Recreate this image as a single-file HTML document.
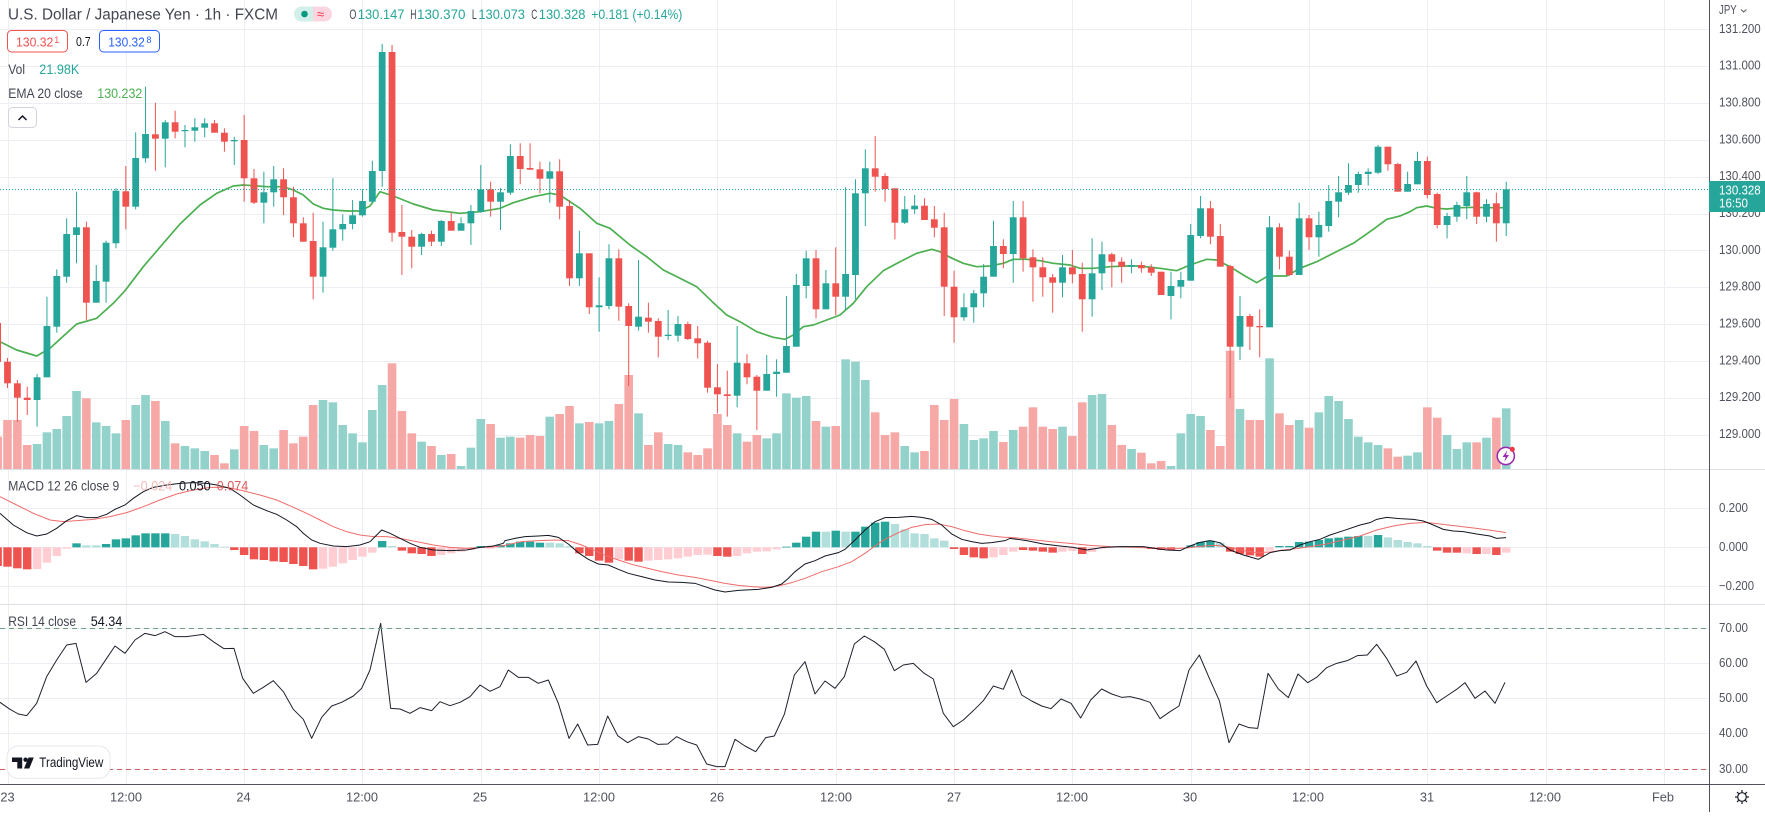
<!DOCTYPE html>
<html><head><meta charset="utf-8">
<style>
html,body{margin:0;padding:0;background:#fff;}
body{width:1765px;height:812px;overflow:hidden;}
svg text{font-family:"Liberation Sans",sans-serif;}
</style></head>
<body>
<svg id="svg" width="1765" height="812" viewBox="0 0 1765 812" xmlns="http://www.w3.org/2000/svg">
<rect x="0" y="0" width="1765" height="812" fill="#fff"/>
<g id="grid" stroke="#eceef3" stroke-width="1" shape-rendering="crispEdges"></g>
<g id="vol"></g>
<g id="ema"></g>
<g id="cand"></g>
<line x1="0" y1="189.5" x2="1709" y2="189.5" stroke="#26a69a" stroke-width="1" stroke-dasharray="1,2"/>
<g id="macd"></g>
<g id="rsi"></g>
<!-- RSI bands -->
<line x1="0" y1="628.5" x2="1709" y2="628.5" stroke="#6a9f82" stroke-width="1" stroke-dasharray="5,4"/>
<line x1="0" y1="769.5" x2="1709" y2="769.5" stroke="#c7625f" stroke-width="1" stroke-dasharray="5,4"/>
<!-- separators -->
<line x1="0" y1="469.5" x2="1765" y2="469.5" stroke="#dcdfe6" stroke-width="1"/>
<line x1="0" y1="604.5" x2="1765" y2="604.5" stroke="#dcdfe6" stroke-width="1"/>
<line x1="0" y1="784.5" x2="1765" y2="784.5" stroke="#50535e" stroke-width="1"/>
<line x1="1709.5" y1="0" x2="1709.5" y2="812" stroke="#50535e" stroke-width="1"/>

<!-- Header legend -->
<text x="8" y="19.5" font-size="15.5" fill="#434651" textLength="270" lengthAdjust="spacingAndGlyphs">U.S. Dollar / Japanese Yen · 1h · FXCM</text>
<path d="M301.5,6.5 H313 V21.5 H301.5 A7.5,7.5 0 0 1 301.5,6.5 Z" fill="#d3efe9"/>
<path d="M313,6.5 H324.5 A7.5,7.5 0 0 1 324.5,21.5 H313 Z" fill="#fbd5df"/>
<circle cx="304.5" cy="14" r="3.3" fill="#089981"/>
<text x="317" y="18.5" font-size="13" fill="#f23645">≈</text>
<g font-size="13.5">
<text x="349.4" y="19" fill="#434651" textLength="7" lengthAdjust="spacingAndGlyphs">O</text>
<text x="357.8" y="19" fill="#26a69a" textLength="46.7" lengthAdjust="spacingAndGlyphs">130.147</text>
<text x="410.3" y="19" fill="#434651" textLength="6.2" lengthAdjust="spacingAndGlyphs">H</text>
<text x="417" y="19" fill="#26a69a" textLength="48.5" lengthAdjust="spacingAndGlyphs">130.370</text>
<text x="471.9" y="19" fill="#434651" textLength="5" lengthAdjust="spacingAndGlyphs">L</text>
<text x="478.4" y="19" fill="#26a69a" textLength="46.6" lengthAdjust="spacingAndGlyphs">130.073</text>
<text x="531.2" y="19" fill="#434651" textLength="6" lengthAdjust="spacingAndGlyphs">C</text>
<text x="538.8" y="19" fill="#26a69a" textLength="46.7" lengthAdjust="spacingAndGlyphs">130.328</text>
<text x="591.3" y="19" fill="#26a69a" textLength="91" lengthAdjust="spacingAndGlyphs">+0.181 (+0.14%)</text>
</g>
<rect x="7.5" y="30.5" width="60" height="21.5" rx="4" fill="#fff" stroke="#ef5350" stroke-width="1"/>
<text x="16" y="46.5" font-size="13" fill="#ef5350" textLength="37.3" lengthAdjust="spacingAndGlyphs">130.32</text>
<text x="54.3" y="43" font-size="9" fill="#ef5350">1</text>
<text x="76" y="46" font-size="12.5" fill="#131722" textLength="14.7" lengthAdjust="spacingAndGlyphs">0.7</text>
<rect x="99.5" y="30.5" width="60" height="21.5" rx="4" fill="#fff" stroke="#2962ff" stroke-width="1"/>
<text x="108.3" y="46.5" font-size="13" fill="#2962ff" textLength="36.5" lengthAdjust="spacingAndGlyphs">130.32</text>
<text x="146.5" y="43" font-size="9" fill="#2962ff">8</text>
<text x="8.3" y="74" font-size="13.5" fill="#434651" textLength="16.7" lengthAdjust="spacingAndGlyphs">Vol</text>
<text x="39.3" y="74" font-size="13.5" fill="#26a69a" textLength="40" lengthAdjust="spacingAndGlyphs">21.98K</text>
<text x="8.3" y="98" font-size="13.5" fill="#434651" textLength="74.4" lengthAdjust="spacingAndGlyphs">EMA 20 close</text>
<text x="97.3" y="98" font-size="13.5" fill="#4caf50" textLength="45" lengthAdjust="spacingAndGlyphs">130.232</text>
<rect x="8.5" y="107.5" width="28" height="20" rx="4" fill="#fff" stroke="#d1d4dc" stroke-width="1"/>
<polyline points="18.5,120 22.5,116 26.5,120" fill="none" stroke="#131722" stroke-width="1.5"/>

<!-- MACD legend -->
<text x="8.3" y="490.5" font-size="13.5" fill="#434651" textLength="111" lengthAdjust="spacingAndGlyphs">MACD 12 26 close 9</text>
<text x="133.3" y="490.5" font-size="13.5" fill="#f7b9b8" textLength="39" lengthAdjust="spacingAndGlyphs">−0.024</text>
<text x="179" y="490.5" font-size="13.5" fill="#131722" textLength="31.7" lengthAdjust="spacingAndGlyphs">0.050</text>
<text x="216.7" y="490.5" font-size="13.5" fill="#e05a57" textLength="31.6" lengthAdjust="spacingAndGlyphs">0.074</text>
<!-- RSI legend -->
<text x="8.3" y="626.2" font-size="13.5" fill="#434651" textLength="67.7" lengthAdjust="spacingAndGlyphs">RSI 14 close</text>
<text x="90.7" y="626.2" font-size="13.5" fill="#131722" textLength="31.6" lengthAdjust="spacingAndGlyphs">54.34</text>

<!-- TradingView logo -->
<rect x="7" y="746" width="103" height="32.3" rx="11" fill="#fff" stroke="#e6e8ee" stroke-width="1"/>
<path d="M12,757.5 H22.2 V768.5 H17.3 V762 H12 Z" fill="#131722"/>
<circle cx="25.6" cy="759.7" r="2.2" fill="#131722"/>
<path d="M28.5,757.5 H33.8 L29.3,768.5 H24 Z" fill="#131722"/>
<text x="39.3" y="767" font-size="13.5" fill="#131722" textLength="64" lengthAdjust="spacingAndGlyphs">TradingView</text>

<!-- Price axis -->
<g font-size="12.8" fill="#50535e">
<text x="1719" y="14" textLength="17.7" lengthAdjust="spacingAndGlyphs">JPY</text>
<polyline points="1741,9.5 1743.7,12 1746.4,9.5" fill="none" stroke="#50535e" stroke-width="1"/>
<text x="1719" y="32.8" textLength="41.7" lengthAdjust="spacingAndGlyphs">131.200</text>
<text x="1719" y="69.6" textLength="41.7" lengthAdjust="spacingAndGlyphs">131.000</text>
<text x="1719" y="106.5" textLength="41.7" lengthAdjust="spacingAndGlyphs">130.800</text>
<text x="1719" y="143.3" textLength="41.7" lengthAdjust="spacingAndGlyphs">130.600</text>
<text x="1719" y="180.1" textLength="41.7" lengthAdjust="spacingAndGlyphs">130.400</text>
<text x="1719" y="217" textLength="41.7" lengthAdjust="spacingAndGlyphs">130.200</text>
<text x="1719" y="253.8" textLength="41.7" lengthAdjust="spacingAndGlyphs">130.000</text>
<text x="1719" y="290.6" textLength="41.7" lengthAdjust="spacingAndGlyphs">129.800</text>
<text x="1719" y="327.5" textLength="41.7" lengthAdjust="spacingAndGlyphs">129.600</text>
<text x="1719" y="364.3" textLength="41.7" lengthAdjust="spacingAndGlyphs">129.400</text>
<text x="1719" y="401.1" textLength="41.7" lengthAdjust="spacingAndGlyphs">129.200</text>
<text x="1719" y="438" textLength="41.7" lengthAdjust="spacingAndGlyphs">129.000</text>
<text x="1719" y="511.8" textLength="29" lengthAdjust="spacingAndGlyphs">0.200</text>
<text x="1719" y="550.8" textLength="29" lengthAdjust="spacingAndGlyphs">0.000</text>
<text x="1719" y="589.8" textLength="35" lengthAdjust="spacingAndGlyphs">−0.200</text>
<text x="1719" y="631.8" textLength="29" lengthAdjust="spacingAndGlyphs">70.00</text>
<text x="1719" y="666.8" textLength="29" lengthAdjust="spacingAndGlyphs">60.00</text>
<text x="1719" y="701.8" textLength="29" lengthAdjust="spacingAndGlyphs">50.00</text>
<text x="1719" y="736.8" textLength="29" lengthAdjust="spacingAndGlyphs">40.00</text>
<text x="1719" y="772.8" textLength="29" lengthAdjust="spacingAndGlyphs">30.00</text>
</g>
<rect x="1709" y="181" width="56" height="31" fill="#26a69a"/>
<text x="1719" y="194.5" font-size="12.8" fill="#fff" textLength="41.7" lengthAdjust="spacingAndGlyphs">130.328</text>
<text x="1719" y="207.5" font-size="12.8" fill="#fff" textLength="29" lengthAdjust="spacingAndGlyphs">16:50</text>

<!-- Time axis -->
<g font-size="12.8" fill="#50535e" text-anchor="middle">
<text x="7.5" y="801.5">23</text>
<text x="126" y="801.5">12:00</text>
<text x="243.5" y="801.5">24</text>
<text x="362" y="801.5">12:00</text>
<text x="480" y="801.5">25</text>
<text x="599" y="801.5">12:00</text>
<text x="717" y="801.5">26</text>
<text x="836" y="801.5">12:00</text>
<text x="954" y="801.5">27</text>
<text x="1072" y="801.5">12:00</text>
<text x="1190" y="801.5">30</text>
<text x="1308" y="801.5">12:00</text>
<text x="1427" y="801.5">31</text>
<text x="1545" y="801.5">12:00</text>
<text x="1663" y="801.5">Feb</text>
</g>
<!-- gear -->
<g stroke="#131722" stroke-width="1.2" fill="none">
<circle cx="1742" cy="797" r="4.3"/>
<line x1="1742" y1="790" x2="1742" y2="792.2"/><line x1="1742" y1="801.8" x2="1742" y2="804"/>
<line x1="1735" y1="797" x2="1737.2" y2="797"/><line x1="1746.8" y1="797" x2="1749" y2="797"/>
<line x1="1737" y1="792" x2="1738.6" y2="793.6"/><line x1="1745.4" y1="800.4" x2="1747" y2="802"/>
<line x1="1747" y1="792" x2="1745.4" y2="793.6"/><line x1="1738.6" y1="800.4" x2="1737" y2="802"/>
</g>
<g id="icon">
<circle cx="1505.8" cy="456" r="8.6" fill="#fff" stroke="#9c27b0" stroke-width="1.5"/>
<path d="M1507.3,450.3 L1502.6,457 H1505.6 L1504.3,461.7 L1509,455 H1506 Z" fill="#9c27b0"/>
<circle cx="1512.3" cy="449.3" r="2.5" fill="#f23645"/>
</g>
</svg>
<script>
(function(){
var X=function(i){return 7.5+9.86*i;};
// grid
var g='';
for(var k=0;k<=14;k++){var gx=Math.round(7.5+118.32*k)+0.5;g+='<line x1="'+gx+'" y1="0" x2="'+gx+'" y2="784"/>';}
var hy=[29.3,66.1,103,139.8,176.6,213.5,250.3,287.1,324,360.8,397.6,434.5,508.3,547.3,586.3,628.3,663.3,698.3,733.3,769.3];
hy.forEach(function(y){var yy=Math.round(y)+0.5;g+='<line x1="0" y1="'+yy+'" x2="1709" y2="'+yy+'"/>';});
document.getElementById('grid').innerHTML=g;

var C=[[323,362,317,364,0],[361.7,383.3,358,388,0],[383.3,397.7,380,421.7,0],[397.7,400,386.7,415,0],[377.3,400,374,426.7,1],[326,377.3,296.7,377.3,1],[276,326.7,269.3,332.7,1],[234,276.7,218.3,282.7,1],[227.3,235,191.7,263.3,1],[227.3,302.7,221.7,320,0],[281,302.7,265,302.7,1],[242.7,281.7,240.7,302.7,1],[190.7,243.3,188.3,248.3,1],[191.3,206.7,166,229.3,0],[158,206.7,132.3,209.3,1],[134,158.3,86.7,162.7,1],[134.3,138.7,102.7,170.7,0],[122.3,138.7,120,167.3,1],[122.3,131.7,110.7,138.3,0],[130,131,125,147.3,1],[127.3,130.7,118.3,141.7,1],[123.3,127.7,118.3,137.3,1],[123.3,132.7,120,132.7,0],[132.7,141.7,128.3,151.7,0],[140,141.3,136.7,165,1],[140,178.3,115,201.7,0],[178.3,202.7,169,204,0],[192.3,202.7,171.7,223.3,1],[179.3,192.3,166,206.7,1],[179.3,197.3,168.3,215,0],[197.3,223.3,186.7,237.3,0],[223.3,241.7,217.3,241.7,0],[241,276.7,212.7,299.3,0],[247.3,276.7,221.7,292.7,1],[229.3,247.7,178.3,250.7,1],[224,229.3,214.3,240.7,1],[215.3,224,200,229.3,1],[201,215.3,189.3,216.7,1],[171,201.7,160.7,202.7,1],[52,171,44,186.7,1],[52,232.7,45,241.7,0],[232,236.7,205,275,0],[236.7,246.7,230,268.3,0],[234,246.7,232.7,255,1],[234,241.7,230.7,246,0],[221,241.7,220,246,1],[221,230.7,212.7,230.7,0],[223.3,230.7,217.3,230.7,1],[211,223.3,205,245,1],[189.3,211.7,165,212.7,1],[189.3,201.7,181.7,216.7,0],[192.3,201.7,188.3,230,1],[156,192.7,144.3,195,1],[156,169,143.3,184.3,0],[168,169.7,143.3,169.7,0],[169.3,178.7,161.7,193.3,0],[171.3,178.7,161.7,202.7,1],[171.3,206.7,159.3,219.3,0],[206,278.3,200,286,0],[253.3,278.3,230.7,286,1],[253.3,307.3,253.3,314,0],[305.3,307.3,277.3,331.7,1],[258.3,306,244.3,309.3,1],[258.3,306.7,249.3,320.7,0],[306,326,303.3,386,0],[316.7,326.7,260,330.7,1],[317.7,321.7,302.7,332.7,0],[321,336.7,318.3,357.3,0],[334.7,336,310,340,1],[324,335.7,316,341.7,1],[324,339,321.7,340,0],[338.3,343.3,326,358.3,0],[342.7,387.7,340.7,392.7,0],[387.3,394.3,364,413.3,0],[394.3,396,370.7,416.7,0],[362.7,395.7,326,407.3,1],[363.3,377.3,354.3,384.3,0],[376.7,390.7,375,430,0],[374,390.7,355,390.7,1],[371.7,374,359.3,396.7,1],[346,372.7,296,372.7,1],[285,346.7,274,346.7,1],[258.3,286,250.7,298.3,1],[258.3,309.3,250,318.3,0],[283.3,309.3,270,309.3,1],[283.3,296.7,247.3,315,0],[274,296.7,187.3,310,1],[193.3,275,179.3,299.3,1],[168.3,193.3,149.3,226,1],[168.3,176.7,136,191.7,0],[176,189,173.3,201.7,0],[188.3,222.7,188.3,239.3,0],[209.3,222.7,196,224,1],[205.7,209.3,195,214,1],[205.7,220,198.3,220,0],[219.3,227.7,206,237.3,0],[227.3,286.7,212.7,316,0],[286.7,317.3,270.7,342.7,0],[307.3,317.3,293.3,320.7,1],[293.3,307.3,290,322.7,1],[276.7,293.3,264,307.3,1],[246,276.7,220.7,276.7,1],[246,254,239.3,268.3,0],[217.3,254,201,282.7,1],[217.3,258.3,201,271.7,0],[257.3,267.3,249.3,301.7,0],[267.3,277.3,257.3,296.7,0],[277.3,282.7,274,312.7,0],[267.3,282.7,255,297.3,1],[267.3,274.3,250,283.3,0],[274,299.3,262.7,331.7,0],[273.3,299.3,238.3,316.7,1],[254.3,273.3,241.7,290,1],[254.3,261.7,252.7,287.3,0],[261.7,266.7,257.3,282.7,0],[265,266.7,259.3,273.3,1],[265,268.3,261.7,272.7,0],[267.3,272.7,264.3,276,0],[271.7,295,271.7,295,0],[286,296,271.7,319.3,1],[280,286.7,271.7,298.3,1],[235,280.7,224,280.7,1],[208.3,236,196,238.3,1],[208.3,236.7,201,244.3,0],[236,266.7,224,266.7,0],[266,346.7,265,398.3,0],[316,346.7,296,360,1],[316,326.7,314,350,0],[326,327.3,309.3,357.3,0],[227.3,327.3,216,327.3,1],[227.3,256.7,223.3,269.3,0],[256.7,275,250.7,276,0],[218.3,275,202.7,275,1],[218.3,237.3,215,250,0],[225,237.3,211.7,256.7,1],[201,226,185,231.7,1],[192.3,201.7,176,217.3,1],[185,192.7,163.3,195,1],[174,185,171.7,192.7,1],[171.7,174,168.3,185.7,1],[146.7,172.7,145,174,1],[146.7,164.3,146.7,170.7,0],[164,191.7,162.7,191.7,0],[184,191.7,171.7,191.7,1],[161,184.3,151.7,184.3,1],[161,195,156.7,198.3,0],[194,225,192.7,228.3,0],[216,225,212.7,238.3,1],[205,216.7,201.7,221.7,1],[192.3,206,176,219.3,1],[192.3,216.7,191.7,224,0],[204,216.7,199.3,222.3,1],[203.3,223.3,192.7,241.7,0],[189.3,223.3,181.7,236,1]];

var V=[1250,1200,1200,1275,1272,1237,1227,1188,1113,1135,1207,1218,1240,1200,1155,1125,1143,1203,1270,1278,1285,1293,1305,1330,1288,1218,1233,1275,1285,1230,1270,1250,1155,1140,1147,1215,1240,1267,1170,1095,1030,1173,1240,1265,1278,1305,1302,1338,1283,1197,1212,1253,1250,1253,1245,1248,1190,1182,1158,1210,1206,1210,1203,1152,1065,1180,1275,1237,1272,1275,1297,1305,1285,1182,1215,1240,1265,1245,1255,1240,1120,1133,1128,1203,1220,1218,1018,1025,1080,1177,1245,1237,1278,1297,1293,1155,1200,1137,1212,1260,1255,1233,1266,1230,1220,1162,1220,1227,1220,1248,1147,1125,1122,1215,1275,1287,1298,1330,1323,1338,1240,1182,1188,1230,1278,992,1167,1200,1200,1015,1180,1215,1200,1223,1177,1128,1143,1197,1250,1267,1275,1285,1310,1307,1297,1162,1193,1245,1287,1267,1267,1253,1193,1165];

var s='';
V.forEach(function(v,k){
  var x=X(k-1), top=20+v/3, up=C[k]?C[k][4]:1;
  s+='<rect x="'+(x-4.3).toFixed(2)+'" y="'+top.toFixed(2)+'" width="8.6" height="'+(469.3-top).toFixed(2)+'" fill="'+(up?'#93d2cb':'#f6a8a6')+'"/>';
});
document.getElementById('vol').innerHTML=s;

var E=[0,341.7,16.7,350,36.7,356,50,348.3,76.7,324,96.7,318.3,113.3,303.3,125,290.7,143.3,266.7,163.3,243.3,180,224,200,205,216.7,193.3,233.3,186,243.3,185,253.3,185.7,266.7,186.7,283.3,186.7,293.3,190,303.3,195,313.3,204,323.3,208.3,333.3,210,346.7,211,360,211,370,206,380,191.7,393.3,196,413.3,204,433.3,210,460,213.3,480,211.7,500,208.3,513.3,202.7,533.3,196.7,550,193.3,560,195,570,201.7,580,208.3,596.7,223.3,610,228.3,630,245,646.7,256.7,663.3,270,680,278.3,696.7,286.7,713.3,302.7,726.7,315,740,321.7,756.7,331.7,773.3,337.3,785,339.3,793.3,335,803.3,326.7,813.3,325,826.7,320,840,315,853.3,303.3,866.7,286.7,883.3,270.7,900,261.7,916.7,253.3,931.7,249.3,940,251.7,950,257.3,963.3,263.3,976.7,266.7,990,266,1003.3,263.3,1013.3,259.3,1026.7,259.3,1040,260.7,1053.3,263.3,1070,265,1080,268.3,1093.3,268.3,1110,266.7,1126.7,266,1140,266,1160,268.3,1176.7,270.7,1190,265,1206.7,259.3,1216.7,260,1230,266.7,1243.3,275,1256.7,282.7,1266.7,276.7,1273.3,276,1286.7,276,1300,268.3,1316.7,261.7,1333.3,253.3,1353.3,243.3,1373.3,229.3,1386.7,219.3,1400,216,1410,211.7,1416.7,207.7,1426.7,206,1436.7,208.3,1446.7,209,1460,207.7,1473.3,207.3,1486.7,207.7,1505.6,207.7];
var ep=[];for(var i=0;i<E.length;i+=2)ep.push(E[i]+','+E[i+1]);
document.getElementById('ema').innerHTML='<polyline points="'+ep.join(' ')+'" fill="none" stroke="#4caf50" stroke-width="1.7" stroke-linejoin="round"/>';

s='';
C.forEach(function(c,k){
  var x=X(k-1), col=c[4]?'#26a69a':'#ef5350';
  s+='<line x1="'+x.toFixed(2)+'" x2="'+x.toFixed(2)+'" y1="'+c[2]+'" y2="'+c[3]+'" stroke="'+col+'" stroke-width="1"/>';
  var h=Math.max(1.2,c[1]-c[0]);
  s+='<rect x="'+(x-3.4).toFixed(2)+'" y="'+c[0]+'" width="6.8" height="'+h.toFixed(2)+'" fill="'+col+'"/>';
});
document.getElementById('cand').innerHTML=s;

// MACD histogram
var H="R288,R290,R295,R298,r297,r278,r258,r236,T220,t226,t226,T222,T208,T205,T196,T190,T190,T190,t192,t198,t208,t214,t222,t230,R240,R255,R268,R270,R274,R276,R282,R288,R298,r296,r290,r280,r270,r260,r248,T213,t228,R242,R250,R252,R258,r255,r250,r245,r240,T228,r236,T225,T220,T215,T215,T218,t218,t220,t228,R250,R258,R272,R278,r268,R272,R275,r272,r270,r268,r265,r260,r255,r254,R258,R260,r258,r250,r245,r244,r238,T230,T218,T200,T185,t185,T182,t185,T185,T170,T158,T155,t162,t178,t190,t192,t205,t212,R237,R255,R262,R265,r262,r255,r245,R240,R242,R245,R248,r245,r243,R252,r246,r236,r234,t231,t231,r234,R237,R240,R240,r234,T226,T216,T212,t218,R245,R252,R256,R260,r242,T228,T228,T216,T215,T210,T205,T203,T200,T198,t198,T195,t202,t210,t216,t220,t228,R242,R248,R248,r250,R252,r252,R255,r248".split(',');
var cols={T:'#26a69a',t:'#b2dfdb',R:'#ef5350',r:'#ffcdd2'};
var zero=547.3;
s='';
H.forEach(function(h,k){
  var x=X(k-1), y=470+parseFloat(h.slice(1))/3;
  var y1=Math.min(y,zero), y2=Math.max(y,zero);
  s+='<rect x="'+(x-4.2).toFixed(2)+'" y="'+y1.toFixed(2)+'" width="8.4" height="'+Math.max(0.8,y2-y1).toFixed(2)+'" fill="'+cols[h[0]]+'"/>';
});
function conv(parts){
  var pts=[],lastx=-1e9;
  parts.forEach(function(p){
    var off=p[0],a=p[1];
    for(var i=0;i<a.length;i+=2){
      var x=off+a[i]/3,y=470+a[i+1]/3;
      if(x<=lastx+0.5)continue;
      lastx=x;pts.push(x.toFixed(2)+','+y.toFixed(2));
    }
  });
  return pts.join(' ');
}
var MB=conv([[0,[0,130,40,165,80,188,110,198,140,192,170,175,200,152,230,137,260,143,290,143,320,133,345,118,375,105,400,85,430,65,460,52,500,45,540,40,580,38,620,40,650,45,690,55,720,75,760,105,800,122,830,133,860,150,890,170,910,190,935,210,960,220,1000,228,1040,230,1080,225,1110,215,1130,195,1145,180,1170,190,1200,205,1230,220,1260,232,1300,240,1350,242,1400,240,1440,232,1480,228,1510,220]],
[505,[0,212,30,205,60,200,100,198,130,196,160,202,190,222,220,248,250,268,280,282,310,285,340,298,370,310,410,320,450,330,490,336,530,337,570,340,600,350,630,360,660,366,700,361,760,358,800,352,830,342,850,325,870,305,900,282,930,272,960,258,1000,248,1020,238,1050,210,1080,180,1110,155,1140,143,1180,142,1220,139,1250,142,1280,148,1310,165,1340,192,1370,208,1400,215,1430,220,1460,218,1500,212]],
[1010,[0,205,50,212,100,222,150,228,190,232,230,240,280,232,330,230,400,230,440,236,470,240,510,242,540,228,570,217,600,212,630,218,660,240,700,255,745,268,780,248,810,242,840,240,870,225,900,215,930,208,960,195,1000,182,1050,165,1080,158,1100,148,1130,142,1170,146,1210,148,1240,153,1270,165,1300,178,1330,183,1360,185,1400,192,1440,198,1460,205,1488,203]]]);
var MS=conv([[0,[0,80,50,105,100,130,150,150,190,155,230,152,280,148,330,140,380,128,430,110,480,90,530,72,580,60,630,52,680,52,720,60,780,75,830,90,880,112,920,130,960,150,1000,170,1040,185,1080,195,1120,200,1160,200,1200,205,1250,215,1300,225,1350,232,1400,235,1450,232,1490,230,1515,226]],
[505,[0,220,50,215,100,212,150,210,190,212,230,225,270,242,300,256,340,270,380,283,420,293,470,305,520,315,570,322,620,332,660,340,700,346,740,350,780,352,820,348,860,338,900,325,950,305,1000,290,1040,275,1080,250,1110,228,1140,208,1180,188,1220,172,1260,164,1300,162,1340,170,1380,182,1420,192,1460,198,1500,202]],
[1010,[0,202,60,208,120,215,180,220,240,226,300,230,380,232,440,235,500,236,540,233,580,228,620,226,660,232,700,242,740,248,780,246,820,240,860,236,900,230,950,222,1000,210,1050,198,1100,180,1150,168,1200,160,1250,157,1290,162,1340,168,1400,175,1450,182,1488,188]]]);
s+='<polyline points="'+MS+'" fill="none" stroke="#ef6c6a" stroke-width="1"/>';
s+='<polyline points="'+MB+'" fill="none" stroke="#131722" stroke-width="1"/>';
document.getElementById('macd').innerHTML=s;

var R=conv([[0,[0,697,30,718,55,732,80,737,110,700,140,620,170,570,200,525,228,520,258,637,290,610,320,565,345,528,375,550,405,510,435,490,465,497,495,485,525,500,560,500,610,493,640,515,672,536,702,535,728,625,760,670,790,652,820,632,850,665,880,718,910,748,935,805,965,742,995,708,1025,697,1060,678,1085,655,1110,600,1142,460,1172,715,1200,717,1230,730,1260,713,1295,722,1320,695,1350,707,1380,697,1410,680,1440,645,1470,664,1500,650]],
[505,[10,600,40,622,70,622,100,640,130,630,160,700,192,805,218,762,248,825,278,823,308,738,338,797,368,818,400,800,430,807,458,823,488,822,515,800,545,815,575,825,605,882,635,890,660,890,690,808,720,828,752,845,782,803,808,798,838,733,868,615,900,575,930,672,960,633,990,655,1018,620,1048,522,1078,498,1108,515,1138,538,1168,602,1195,585,1225,580,1255,608,1285,627,1315,730,1345,770,1375,750,1405,722,1435,692,1465,648,1495,658]],
[1010,[5,600,35,675,65,693,95,708,123,716,153,687,183,700,212,744,242,690,275,657,305,672,335,682,360,680,390,687,420,697,450,746,480,725,507,708,537,600,568,555,598,625,628,692,657,818,687,762,717,773,743,775,774,610,805,657,835,683,864,612,893,638,920,622,950,593,980,580,1012,572,1042,557,1072,555,1100,523,1130,565,1160,618,1190,607,1218,573,1250,648,1280,698,1310,678,1340,658,1365,638,1395,685,1425,663,1455,700,1485,637]]]);
document.getElementById('rsi').innerHTML='<polyline points="'+R+'" fill="none" stroke="#1e222d" stroke-width="1" stroke-linejoin="round"/>';
})();
</script>
</body></html>
